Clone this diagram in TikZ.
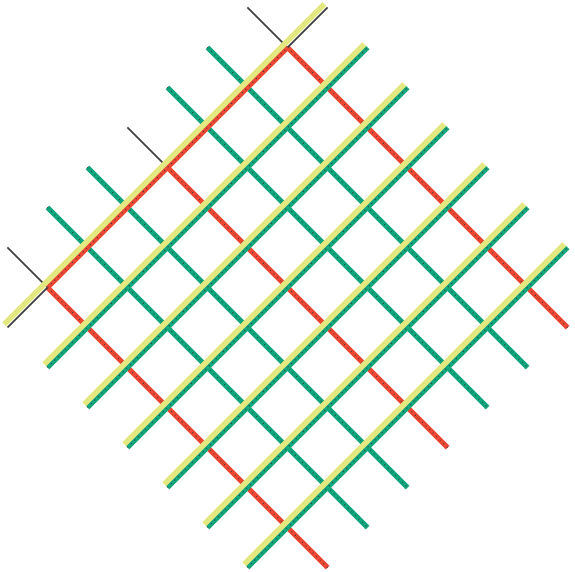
\documentclass[tikz,border=0pt]{standalone}
\usepackage{xcolor}
\definecolor{latticegreen}{RGB}{16, 166, 126}
\definecolor{boundaryred}{RGB}{238, 72, 52}
\definecolor{planeyellow}{RGB}{228, 232, 128}
\definecolor{darkslate}{RGB}{60, 60, 60}
\usepackage{tikz}

\tikzset{
    greenline/.style={latticegreen, line width=5pt,
        postaction={draw=darkslate, line width=1pt, dash pattern=on 1pt off 4pt}},
    redline/.style={boundaryred, line width=5pt,
        postaction={draw=darkslate, line width=1pt, dash pattern=on 1pt off 4pt}},
    blackline/.style={darkslate, line width=1.6pt},
    yellowline/.style={planeyellow, line width=5.5pt},
}

\begin{document}
\begin{tikzpicture}[x=1pt, y=1pt]
    \useasboundingbox (0,0) rectangle (575,572);
    \begin{scope}[shift={(287.5pt,284.5pt)}, x={(40pt,40pt)}, y={(40pt,-40pt)}]
    \coordinate (O) at (0,0);
    % green lines running down to the right
    \draw[greenline] (-2,-4) -- (-2,4);
    \draw[greenline] (-1,-4) -- (-1,4);
    \draw[greenline] (1,-4) -- (1,4);
    \draw[greenline] (2,-4) -- (2,4);
    % red lines with their black ends
    \draw[blackline] (-3,-4) -- (-3,-3);
    \draw[blackline] (0,-4) -- (0,-3);
    \draw[blackline] (3,-4) -- (3,-3);
    \draw[redline] (-3,-3) -- (-3,4);
    \draw[redline] (0,-3) -- (0,4);
    \draw[redline] (3,-3) -- (3,4);
    % lines running up to the right
    \draw[blackline] (-4,-3) -- (-3,-3);
    \draw[blackline] (3,-3) -- (4,-3);
    \draw[redline] (-3,-3) -- (3,-3);
    \draw[greenline] (-4,-2) -- (4,-2);
    \draw[greenline] (-4,-1) -- (4,-1);
    \draw[greenline] (-4,0) -- (4,0);
    \draw[greenline] (-4,1) -- (4,1);
    \draw[greenline] (-4,2) -- (4,2);
    \draw[greenline] (-4,3) -- (4,3);
    % yellow bands on the upper side
    \draw[yellowline] (-4,-3.08) -- (4,-3.08);
    \draw[yellowline] (-4,-2.08) -- (4,-2.08);
    \draw[yellowline] (-4,-1.08) -- (4,-1.08);
    \draw[yellowline] (-4,-0.08) -- (4,-0.08);
    \draw[yellowline] (-4,0.92) -- (4,0.92);
    \draw[yellowline] (-4,1.92) -- (4,1.92);
    \draw[yellowline] (-4,2.92) -- (4,2.92);
    \end{scope}
\end{tikzpicture}
\end{document}
